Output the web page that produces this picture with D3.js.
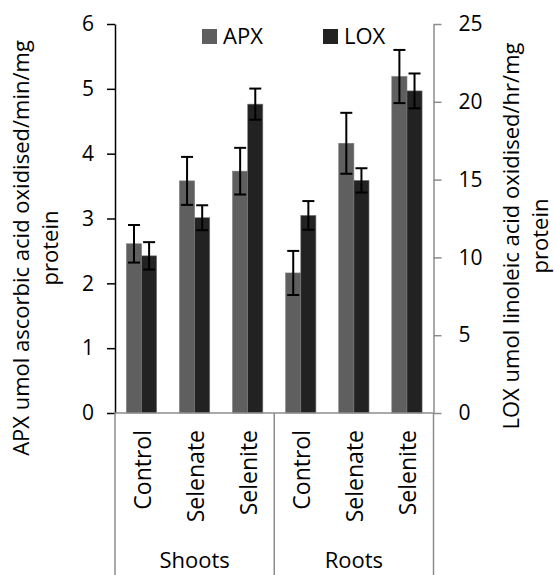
<!DOCTYPE html>
<html>
<head>
<meta charset="utf-8">
<script src="https://cdn.jsdelivr.net/npm/d3@7"></script>
<style>
  html, body { margin: 0; padding: 0; background: #fff; }
  svg { display: block; font-family: "Open Sans", "Noto Sans", sans-serif; }
</style>
</head>
<body>
<svg id="chart" width="555" height="575"></svg>
<script>
// Treatments within each tissue group
const categories = ["Control", "Selenate", "Selenite", "Control", "Selenate", "Selenite"];
const groups = ["Shoots", "Roots"];
const groupSize = 3;

// APX activity (left axis) and LOX activity (right axis), with standard errors
const apxValues = [2.61, 3.58, 3.73, 2.16, 4.16, 5.19];
const apxErrors = [0.29, 0.37, 0.36, 0.34, 0.47, 0.41];
const loxValues = [10.1, 12.55, 19.85, 12.7, 14.95, 20.7];
const loxErrors = [0.88, 0.80, 1.00, 0.92, 0.78, 1.12];

const seriesNames = ["APX", "LOX"];
const leftTicks = [0, 1, 2, 3, 4, 5, 6];
const rightTicks = [0, 5, 10, 15, 20, 25];

const colors = { APX: "#5f5f5f", LOX: "#222222" };

const svg = d3.select("#chart");
const plot = { left: 115, right: 433.5, top: 24, bottom: 413 };

const x = d3.scaleBand()
  .domain(d3.range(categories.length))
  .range([plot.left, plot.right])
  .paddingInner(0.43)
  .paddingOuter(0.215);
const xs = d3.scaleBand().domain(seriesNames).range([0, x.bandwidth()]);

const yL = d3.scaleLinear().domain([0, 6]).range([plot.bottom, plot.top]);
const yR = d3.scaleLinear().domain([0, 25]).range([plot.bottom, plot.top]);

const rows = categories.map((c, i) => ({
  i,
  bars: [
    { name: "APX", v: apxValues[i], e: apxErrors[i], y: yL },
    { name: "LOX", v: loxValues[i], e: loxErrors[i], y: yR }
  ]
}));

// bars
const g = svg.append("g");
const cat = g.selectAll("g.cat").data(rows).join("g")
  .attr("class", "cat")
  .attr("transform", d => `translate(${x(d.i)},0)`);

cat.selectAll("rect").data(d => d.bars).join("rect")
  .attr("x", d => xs(d.name))
  .attr("width", xs.bandwidth())
  .attr("y", d => d.y(d.v))
  .attr("height", d => d.y(0) - d.y(d.v))
  .attr("fill", d => colors[d.name])
  .attr("stroke", "#7a7a7a")
  .attr("stroke-width", 0.6);

// error bars
const capW = 12;
const eb = cat.selectAll("g.err").data(d => d.bars).join("g")
  .attr("class", "err")
  .attr("stroke", "#000")
  .attr("stroke-width", 2);
eb.append("line")
  .attr("x1", d => xs(d.name) + xs.bandwidth() / 2)
  .attr("x2", d => xs(d.name) + xs.bandwidth() / 2)
  .attr("y1", d => d.y(d.v + d.e))
  .attr("y2", d => d.y(d.v - d.e));
eb.selectAll("line.cap").data(d => [
    { d, val: d.v + d.e }, { d, val: d.v - d.e }
  ]).join("line")
  .attr("class", "cap")
  .attr("x1", p => xs(p.d.name) + xs.bandwidth() / 2 - capW / 2)
  .attr("x2", p => xs(p.d.name) + xs.bandwidth() / 2 + capW / 2)
  .attr("y1", p => p.d.y(p.val))
  .attr("y2", p => p.d.y(p.val));

// left axis
const axL = svg.append("g")
  .attr("transform", `translate(${plot.left},0)`)
  .call(d3.axisLeft(yL).tickValues(leftTicks).tickFormat(d3.format("d"))
    .tickSize(8).tickSizeOuter(0).tickPadding(13));
axL.select(".domain").attr("stroke", "#000").attr("stroke-width", 1.5);
axL.selectAll(".tick line").attr("stroke", "#000").attr("stroke-width", 1.5);
axL.selectAll("text").attr("font-size", 21).attr("fill", "#000")
  .attr("font-family", "Open Sans");

// right axis
const axR = svg.append("g")
  .attr("transform", `translate(${plot.right},0)`)
  .call(d3.axisRight(yR).tickValues(rightTicks).tickFormat(d3.format("d"))
    .tickSize(8).tickSizeOuter(0).tickPadding(17));
axR.select(".domain").attr("stroke", "#8c8c8c").attr("stroke-width", 1.5);
axR.selectAll(".tick line").attr("stroke", "#8c8c8c").attr("stroke-width", 1.5);
axR.selectAll("text").attr("font-size", 21).attr("fill", "#000")
  .attr("font-family", "Open Sans");

// category axis: baseline and group separators
const axisColor = "#8c8c8c";
svg.append("line")
  .attr("x1", plot.left).attr("x2", plot.right)
  .attr("y1", plot.bottom).attr("y2", plot.bottom)
  .attr("stroke", axisColor).attr("stroke-width", 1.5);

const sepX = d3.range(groups.length + 1).map(k => {
  if (k === groups.length) return plot.right;
  return x(k * groupSize) - x.step() * x.paddingOuter();
});
svg.selectAll("line.sep").data(sepX).join("line")
  .attr("class", "sep")
  .attr("x1", d => d).attr("x2", d => d)
  .attr("y1", plot.bottom).attr("y2", 575)
  .attr("stroke", axisColor).attr("stroke-width", 1.5);

// treatment labels, rotated
svg.selectAll("text.cat").data(categories).join("text")
  .attr("class", "cat")
  .attr("transform", (d, i) => `translate(${x(i) + x.bandwidth() / 2 + 9},430) rotate(-90)`)
  .attr("text-anchor", "end")
  .attr("font-size", 23)
  .text(d => d);

// tissue group labels
svg.selectAll("text.grp").data(groups).join("text")
  .attr("class", "grp")
  .attr("x", (d, k) => (sepX[k] + sepX[k + 1]) / 2)
  .attr("y", 568)
  .attr("text-anchor", "middle")
  .attr("font-size", 22)
  .text(d => d);

// axis titles
function vTitle(lines, cx, cy, lineGap) {
  const t = svg.append("text")
    .attr("transform", `translate(${cx},${cy}) rotate(-90)`)
    .attr("text-anchor", "middle")
    .attr("font-size", 22);
  lines.forEach((ln, k) => {
    t.append("tspan").attr("x", 0).attr("y", k * lineGap).text(ln);
  });
}
vTitle(["APX umol ascorbic acid oxidised/min/mg", "protein"], 29, 248, 29);
vTitle(["LOX umol linoleic acid oxidised/hr/mg", "protein"], 519, 236, 29);

// legend
const legend = svg.append("g");
const legendX = [202, 323];
seriesNames.forEach((s, k) => {
  legend.append("rect")
    .attr("x", legendX[k]).attr("y", 29)
    .attr("width", 15).attr("height", 15)
    .attr("fill", colors[s]);
  legend.append("text")
    .attr("x", legendX[k] + 21).attr("y", 44)
    .attr("font-size", 22)
    .text(s);
});
</script>
</body>
</html>
